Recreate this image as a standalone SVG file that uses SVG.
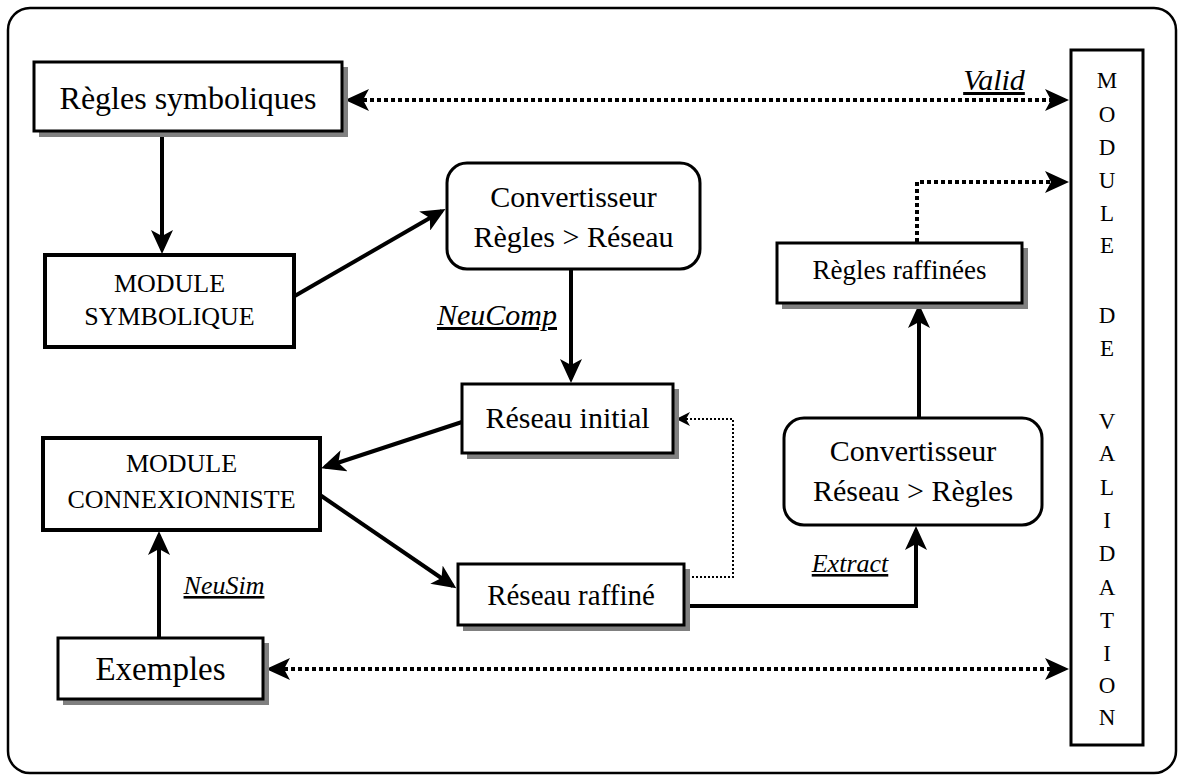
<svg xmlns="http://www.w3.org/2000/svg" width="1179" height="778" viewBox="0 0 1179 778">
<style>
text{font-family:"Liberation Serif","Times New Roman",serif;font-weight:normal;fill:#000;text-anchor:middle}
.box{fill:#fff;stroke:#000;stroke-width:3}
.mod{fill:#fff;stroke:#000;stroke-width:4}
.sh{fill:#808080}
.lbl{font-style:italic;text-decoration:underline}
.solid{fill:none;stroke:#000;stroke-width:4}
.dot{fill:none;stroke:#000;stroke-width:4;stroke-dasharray:4 3}
.thin{fill:none;stroke:#000;stroke-width:2;stroke-dasharray:2 2}
.vl{font-size:23px}
</style>
<defs>
<marker id="ah" viewBox="0 0 24 22" refX="20" refY="11" markerWidth="24" markerHeight="22" markerUnits="userSpaceOnUse" orient="auto-start-reverse">
<path d="M24,11 L0,0 L6,11 L0,22 Z" fill="#000"/>
</marker>
<marker id="ahs" viewBox="0 0 14 14" refX="12" refY="7" markerWidth="14" markerHeight="14" markerUnits="userSpaceOnUse" orient="auto">
<path d="M14,7 L0,0 L4,7 L0,14 Z" fill="#000"/>
</marker>
</defs>
<rect x="8" y="8" width="1168" height="765" rx="22" fill="#fff" stroke="#000" stroke-width="2.5"/>

<g id="connectors">
<line class="solid" x1="162" y1="131" x2="162" y2="250" marker-end="url(#ah)"/>
<line class="solid" x1="293" y1="297" x2="442" y2="211" marker-end="url(#ah)"/>
<line class="solid" x1="571" y1="269" x2="571" y2="379" marker-end="url(#ah)"/>
<line class="solid" x1="462" y1="422" x2="325" y2="467" marker-end="url(#ah)"/>
<line class="solid" x1="320" y1="495" x2="453" y2="586" marker-end="url(#ah)"/>
<line class="solid" x1="159" y1="638" x2="159" y2="535" marker-end="url(#ah)"/>
<polyline class="solid" points="684,606 916,606 916,530" marker-end="url(#ah)"/>
<line class="solid" x1="919" y1="418" x2="919" y2="308" marker-end="url(#ah)"/>
<polyline class="dot" points="917,242 917,182 1065,182" marker-end="url(#ah)"/>
<polyline class="thin" points="684,577 733,577 733,419 678,419" marker-end="url(#ahs)"/>
<line class="dot" x1="349" y1="100" x2="1065" y2="100" marker-start="url(#ah)" marker-end="url(#ah)"/>
<line class="dot" x1="270" y1="669" x2="1065" y2="669" marker-start="url(#ah)" marker-end="url(#ah)"/>
<text class="lbl" x="994" y="90" font-size="30">Valid</text>
<text class="lbl" x="497" y="325" font-size="30">NeuComp</text>
<text class="lbl" x="224" y="594" font-size="26">NeuSim</text>
<text class="lbl" x="850" y="572" font-size="26">Extract</text>
</g>

<g id="regles-symboliques">
<rect class="sh" x="39" y="67" width="309" height="70"/>
<rect class="box" x="34" y="62" width="308" height="69"/>
<text x="188" y="109" font-size="32">Règles symboliques</text>
</g>

<g id="module-symbolique">
<rect class="mod" x="45" y="255" width="249" height="92"/>
<text x="169.5" y="292" font-size="26">MODULE</text>
<text x="169.5" y="325" font-size="26">SYMBOLIQUE</text>
</g>

<g id="convertisseur-regles-reseau">
<rect class="box" x="447" y="163" width="253" height="106" rx="20"/>
<text x="573.5" y="207" font-size="30">Convertisseur</text>
<text x="573.5" y="247" font-size="30">Règles &gt; Réseau</text>
</g>

<g id="reseau-initial">
<rect class="sh" x="467" y="389" width="212" height="70"/>
<rect class="box" x="462" y="384" width="211" height="69"/>
<text x="567.5" y="428" font-size="30">Réseau initial</text>
</g>

<g id="module-connexionniste">
<rect class="mod" x="43" y="438" width="277" height="92"/>
<text x="181.5" y="472" font-size="26">MODULE</text>
<text x="181.5" y="508" font-size="26">CONNEXIONNISTE</text>
</g>

<g id="reseau-raffine">
<rect class="sh" x="463" y="569" width="227" height="62"/>
<rect class="box" x="458" y="564" width="226" height="61"/>
<text x="571" y="605" font-size="29">Réseau raffiné</text>
</g>

<g id="exemples">
<rect class="sh" x="63" y="643" width="206" height="62"/>
<rect class="box" x="58" y="638" width="205" height="61"/>
<text x="160.5" y="680" font-size="33">Exemples</text>
</g>

<g id="regles-raffinees">
<rect class="sh" x="782" y="248" width="246" height="61"/>
<rect class="box" x="777" y="243" width="245" height="60"/>
<text x="899.5" y="279" font-size="27">Règles raffinées</text>
</g>

<g id="convertisseur-reseau-regles">
<rect class="box" x="784" y="418" width="258" height="107" rx="20"/>
<text x="913" y="461" font-size="30">Convertisseur</text>
<text x="913" y="501" font-size="30">Réseau &gt; Règles</text>
</g>

<g id="module-validation">
<rect class="box" x="1071" y="50" width="72" height="695"/>
<text class="vl" x="1107" y="88">M</text>
<text class="vl" x="1107" y="122">O</text>
<text class="vl" x="1107" y="155">D</text>
<text class="vl" x="1107" y="188">U</text>
<text class="vl" x="1107" y="221">L</text>
<text class="vl" x="1107" y="253">E</text>
<text class="vl" x="1107" y="323">D</text>
<text class="vl" x="1107" y="356">E</text>
<text class="vl" x="1107" y="429">V</text>
<text class="vl" x="1107" y="461">A</text>
<text class="vl" x="1107" y="495">L</text>
<text class="vl" x="1107" y="528">I</text>
<text class="vl" x="1107" y="561">D</text>
<text class="vl" x="1107" y="595">A</text>
<text class="vl" x="1107" y="628">T</text>
<text class="vl" x="1107" y="661">I</text>
<text class="vl" x="1107" y="693">O</text>
<text class="vl" x="1107" y="725">N</text>
</g>
</svg>
